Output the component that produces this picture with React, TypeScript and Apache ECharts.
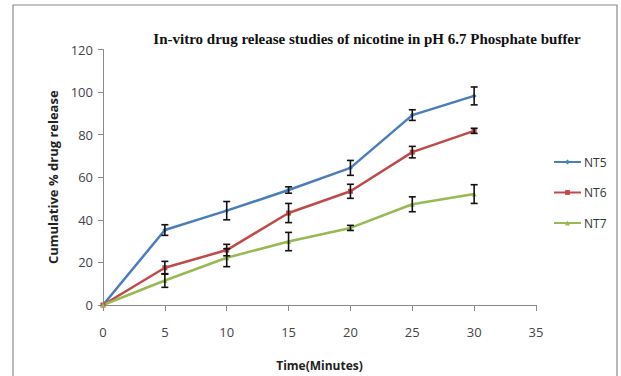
import React, { useEffect, useRef } from "react";
import * as echarts from "echarts";

const times = [0, 5, 10, 15, 20, 25, 30];
const nt5 = [0, 35.2, 44.3, 54, 64.4, 89.2, 98.2];
const nt5Err = [0, 2.5, 4.3, 1.5, 3.5, 2.5, 4.2];
const nt6 = [0, 17.5, 25.8, 43.2, 53.4, 71.8, 81.8];
const nt6Err = [0, 3, 2.7, 4.5, 3.3, 2.7, 1.2];
const nt7 = [0, 11.5, 22.2, 29.8, 36.2, 47.3, 52.1];
const nt7Err = [0, 3.2, 4.2, 4.3, 1.2, 3.5, 4.4];
const seriesNames = ["NT5", "NT6", "NT7"];
const colors = ["#4a7ebb", "#be4b48", "#98b954"];
const symbols = ["diamond", "rect", "triangle"];

const title = "In-vitro drug release studies of nicotine in pH 6.7 Phosphate buffer";
const xName = "Time(Minutes)";
const yName = "Cumulative % drug release";

export default function App() {
  const ref = useRef<HTMLDivElement>(null);
  useEffect(() => {
    if (!ref.current) return;
    const chart = echarts.init(ref.current, undefined, { renderer: "svg" });
    const values = [nt5, nt6, nt7];
    const errs = [nt5Err, nt6Err, nt7Err];

    const lineSeries = values.map((v, i) => ({
      type: "line",
      name: seriesNames[i],
      data: times.map((t, j) => [t, v[j]]),
      symbol: symbols[i],
      symbolSize: 5,
      showAllSymbol: true,
      lineStyle: { color: colors[i], width: 2.5 },
      itemStyle: { color: colors[i] },
      z: 2,
    }));

    const errSeries = values.map((v, i) => ({
      type: "custom",
      name: seriesNames[i] + " err",
      data: times
        .map((t, j) => [t, v[j] - errs[i][j], v[j] + errs[i][j]])
        .filter((d, j) => errs[i][j] > 0),
      z: 5,
      renderItem: (params: any, api: any) => {
        const x = api.value(0);
        const lo = api.coord([x, api.value(1)]);
        const hi = api.coord([x, api.value(2)]);
        const hw = 3.5;
        const style = { stroke: "#111", lineWidth: 1.6 };
        return {
          type: "group",
          children: [
            { type: "line", shape: { x1: lo[0], y1: lo[1], x2: hi[0], y2: hi[1] }, style },
            { type: "line", shape: { x1: lo[0] - hw, y1: lo[1], x2: lo[0] + hw, y2: lo[1] }, style },
            { type: "line", shape: { x1: hi[0] - hw, y1: hi[1], x2: hi[0] + hw, y2: hi[1] }, style },
          ],
        };
      },
    }));

    chart.setOption({
      animation: false,
      backgroundColor: "#ffffff",
      title: {
        text: title,
        left: 362,
        textAlign: "center",
        top: 26,
        textStyle: {
          fontFamily: "Liberation Serif",
          fontWeight: "bold",
          fontSize: 15,
          color: "#111",
        },
      },
      graphic: [
        {
          type: "rect",
          shape: { x: 13, y: 5, width: 604, height: 400 },
          style: { fill: "none", stroke: "#8a8a8a", lineWidth: 1.2 },
          silent: true,
        },
      ],
      legend: {
        orient: "vertical",
        left: 553,
        top: 155,
        padding: 0,
        itemWidth: 27,
        itemHeight: 6,
        itemGap: 16.5,
        data: seriesNames,
        textStyle: {
          fontFamily: "Open Sans",
          fontSize: 12,
          color: "#333",
          lineHeight: 14,
          height: 14,
          padding: [0, 0, 0, -2],
        },
      },
      grid: { left: 103, right: 85, top: 49.5, bottom: 71 },
      xAxis: {
        type: "value",
        min: 0,
        max: 35,
        interval: 5,
        name: xName,
        nameLocation: "middle",
        nameGap: 54,
        nameTextStyle: { fontFamily: "Open Sans", fontWeight: "bold", fontSize: 12, color: "#222" },
        axisLine: { lineStyle: { color: "#8a8a8a", width: 1 } },
        axisTick: { show: true, length: 6, lineStyle: { color: "#8a8a8a" } },
        axisLabel: { fontFamily: "Open Sans", fontSize: 13, color: "#444", margin: 20 },
        splitLine: { show: false },
      },
      yAxis: {
        type: "value",
        min: 0,
        max: 120,
        interval: 20,
        name: yName,
        nameLocation: "middle",
        nameGap: 44,
        nameTextStyle: { fontFamily: "Open Sans", fontWeight: "bold", fontSize: 13, color: "#222" },
        axisLine: { show: true, lineStyle: { color: "#8a8a8a", width: 1 } },
        axisTick: { show: true, length: 5, lineStyle: { color: "#8a8a8a" } },
        axisLabel: { fontFamily: "Open Sans", fontSize: 13, color: "#444", margin: 10 },
        splitLine: { show: false },
      },
      series: [...lineSeries, ...errSeries],
    } as any);
    return () => chart.dispose();
  }, []);
  return (
    <div
      ref={ref}
      style={{ position: "absolute", left: 0, top: 0, width: 621, height: 376 }}
    />
  );
}
